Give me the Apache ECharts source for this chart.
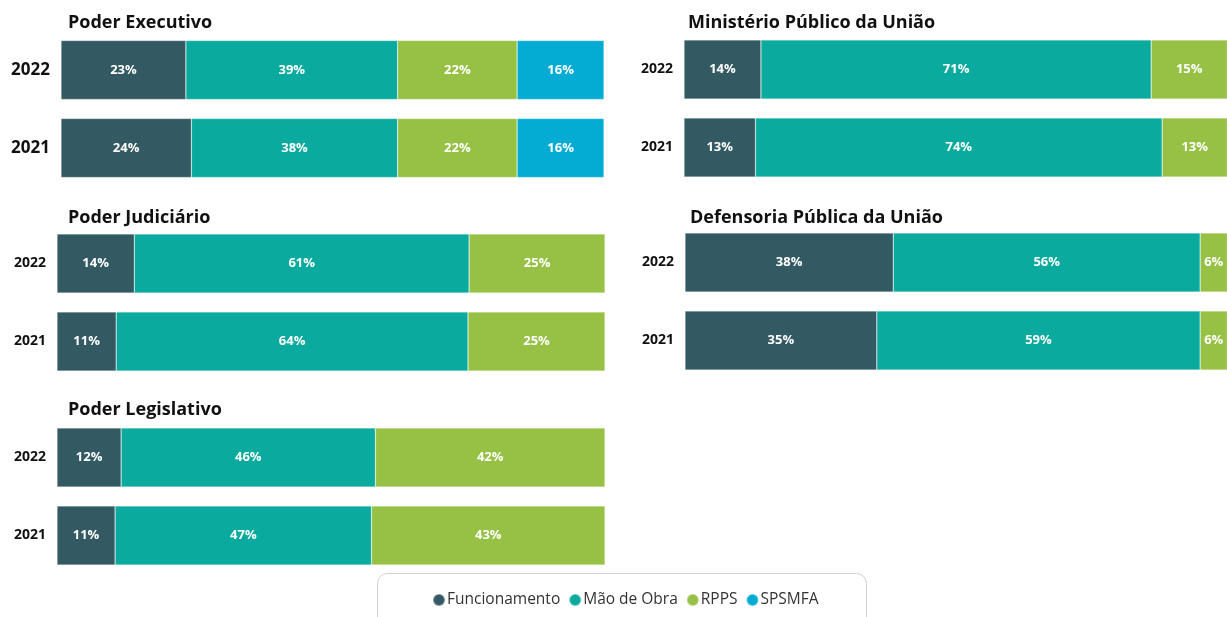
<!DOCTYPE html>
<html>
<head>
<meta charset="utf-8">
<script src="https://cdn.jsdelivr.net/npm/echarts@6/dist/echarts.min.js"></script>
<style>
  html, body { margin: 0; padding: 0; background: #fff; }
  #chart { width: 1227px; height: 617px; }
</style>
</head>
<body>
<div id="chart"></div>
<script>
const years = ['2022', '2021']
const seriesNames = ['Funcionamento', 'Mão de Obra', 'RPPS', 'SPSMFA']
const colors = ['#335a63', '#0aab9e', '#97c145', '#04acd4']

// Participação (%) por poder/órgão, na ordem [2022, 2021]
const executivoFunc = [23, 24]
const executivoMao = [39, 38]
const executivoRpps = [22, 22]
const executivoSps = [16, 16]

const judiciarioFunc = [14.1, 10.8]
const judiciarioMao = [61.1, 64.2]
const judiciarioRpps = [24.8, 25]

const legislativoFunc = [11.7, 10.6]
const legislativoMao = [46.4, 46.8]
const legislativoRpps = [41.9, 42.6]

const mpuFunc = [14, 13]
const mpuMao = [71, 74]
const mpuRpps = [15, 13]

const dpuFunc = [38, 35]
const dpuMao = [56, 59]
const dpuRpps = [6, 6]

// os painéis da direita saem um pouco da tela no original (max < 100 corta a ponta)
const panels = [
  { title: 'Poder Executivo', tx: 68, ty: 14, top: 31, left: 61, width: 543, max: 100, yearSize: 17, data: [executivoFunc, executivoMao, executivoRpps, executivoSps] },
  { title: 'Poder Judiciário', tx: 68, ty: 209, top: 224.5, left: 57, width: 548, max: 100, yearSize: 14, data: [judiciarioFunc, judiciarioMao, judiciarioRpps] },
  { title: 'Poder Legislativo', tx: 68, ty: 401, top: 418.5, left: 57, width: 548, max: 100, yearSize: 14, data: [legislativoFunc, legislativoMao, legislativoRpps] },
  { title: 'Ministério Público da União', tx: 688, ty: 14, top: 30.5, left: 684, width: 543, max: 98.8, yearSize: 14, data: [mpuFunc, mpuMao, mpuRpps] },
  { title: 'Defensoria Pública da União', tx: 690, ty: 209, top: 223.5, left: 685, width: 542, max: 98.9, yearSize: 14, data: [dpuFunc, dpuMao, dpuRpps] }
]

const font = '"Open Sans", "Noto Sans", sans-serif'
const chart = echarts.init(document.getElementById('chart'))

const titles = []
const grids = []
const xAxes = []
const yAxes = []
const series = []

panels.forEach((p, i) => {
  titles.push({
    text: p.title,
    left: p.tx,
    top: p.ty,
    padding: 0,
    textStyle: { fontFamily: font, fontSize: 18, fontWeight: 'bold', color: '#111' }
  })
  grids.push({ left: p.left, top: p.top, width: p.width, height: 156 })
  xAxes.push({
    gridIndex: i,
    type: 'value',
    min: 0,
    max: p.max,
    show: false
  })
  yAxes.push({
    gridIndex: i,
    type: 'category',
    data: years,
    inverse: true,
    axisLine: { show: false },
    axisTick: { show: false },
    axisLabel: {
      margin: 11,
      fontFamily: font,
      fontSize: p.yearSize,
      fontWeight: 'bold',
      color: '#111'
    }
  })
  p.data.forEach((vals, k) => {
    series.push({
      name: seriesNames[k],
      type: 'bar',
      stack: 'p' + i,
      xAxisIndex: i,
      yAxisIndex: i,
      barWidth: 59,
      clip: true,
      data: vals,
      itemStyle: { color: colors[k], borderColor: 'rgba(255,255,255,0.35)', borderWidth: 0.6 },
      label: {
        show: true,
        position: 'inside',
        formatter: (d) => Math.round(d.value) + '%',
        fontFamily: font,
        fontSize: 13,
        fontWeight: 'bold',
        color: '#fff'
      },
      emphasis: { disabled: true }
    })
  })
})

chart.setOption({
  animation: false,
  title: titles,
  grid: grids,
  xAxis: xAxes,
  yAxis: yAxes,
  series: series,
  legend: {
    data: seriesNames,
    left: 427,
    top: 587,
    icon: 'circle',
    itemWidth: 12,
    itemHeight: 12,
    itemGap: 8,
    textStyle: { fontFamily: font, fontSize: 15.5, color: '#333', padding: [0, 0, 0, -3] }
  },
  graphic: [{
    type: 'rect',
    shape: { x: 377.5, y: 573.5, width: 489, height: 60, r: 10 },
    style: { fill: 'none', stroke: '#d0d0d0', lineWidth: 1 },
    silent: true
  }]
})
</script>
</body>
</html>
